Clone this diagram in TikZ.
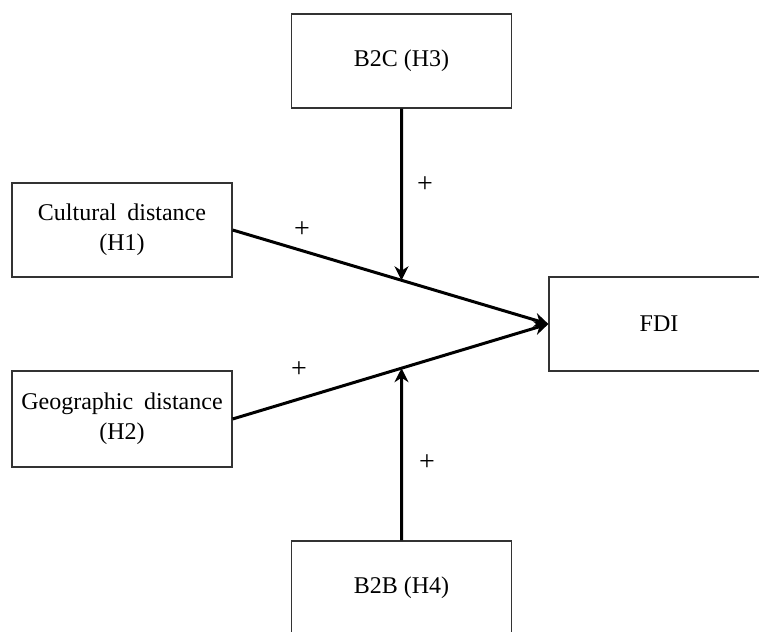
\documentclass[tikz,border=0pt]{standalone}
\usepackage{fontspec}
\setmainfont{Liberation Serif}
\usetikzlibrary{arrows.meta,positioning}

\begin{document}
\begin{tikzpicture}[x=0.5pt, y=-0.5pt, >={Stealth[length=7pt,width=7pt]},
                    every node/.style={align=center, font=\fontsize{12}{15}\selectfont},
                    box/.style={draw=black!80, line width=0.6pt, rectangle, minimum width=110pt, minimum height=47pt},
                    plus/.style={font=\fontsize{14}{15}\selectfont, inner sep=1pt}]
  \useasboundingbox (0,0) rectangle (759,631);
  \clip (0,0) rectangle (759,631);

  % Define nodes
  \node[box] (b2c) at (401.5,61) {B2C (H3)};
  \node[box] (cult) at (122,230) {Cultural\hspace{0.45em}distance\\(H1)};
  \node[box, minimum height=48pt] (geo) at (122,419) {Geographic\hspace{0.45em}distance\\(H2)};
  \node[box] (fdi) at (659,324) {FDI};
  \node[box] (b2b) at (401.5,588) {B2B (H4)};

  % meeting points on the main paths
  \coordinate (top) at (intersection of b2c.south--b2b.north and cult.east--fdi.west);
  \coordinate (bot) at (intersection of b2c.south--b2b.north and geo.east--fdi.west);

  % Define paths
  \draw[->, line width=1.5pt] (cult.east) -- node[plus, pos=0.22, above=5pt]{+} (fdi.west);
  \draw[->, line width=1.5pt] (geo.east) -- node[plus, pos=0.21, above=9pt]{+} (fdi.west);
  \draw[->, line width=1.5pt] (b2c.south) -- node[plus, pos=0.44, right=6pt]{+} (top);
  \draw[->, line width=1.5pt] (b2b.north) -- node[plus, pos=0.45, right=7pt]{+} (bot);

\end{tikzpicture}
\end{document}
